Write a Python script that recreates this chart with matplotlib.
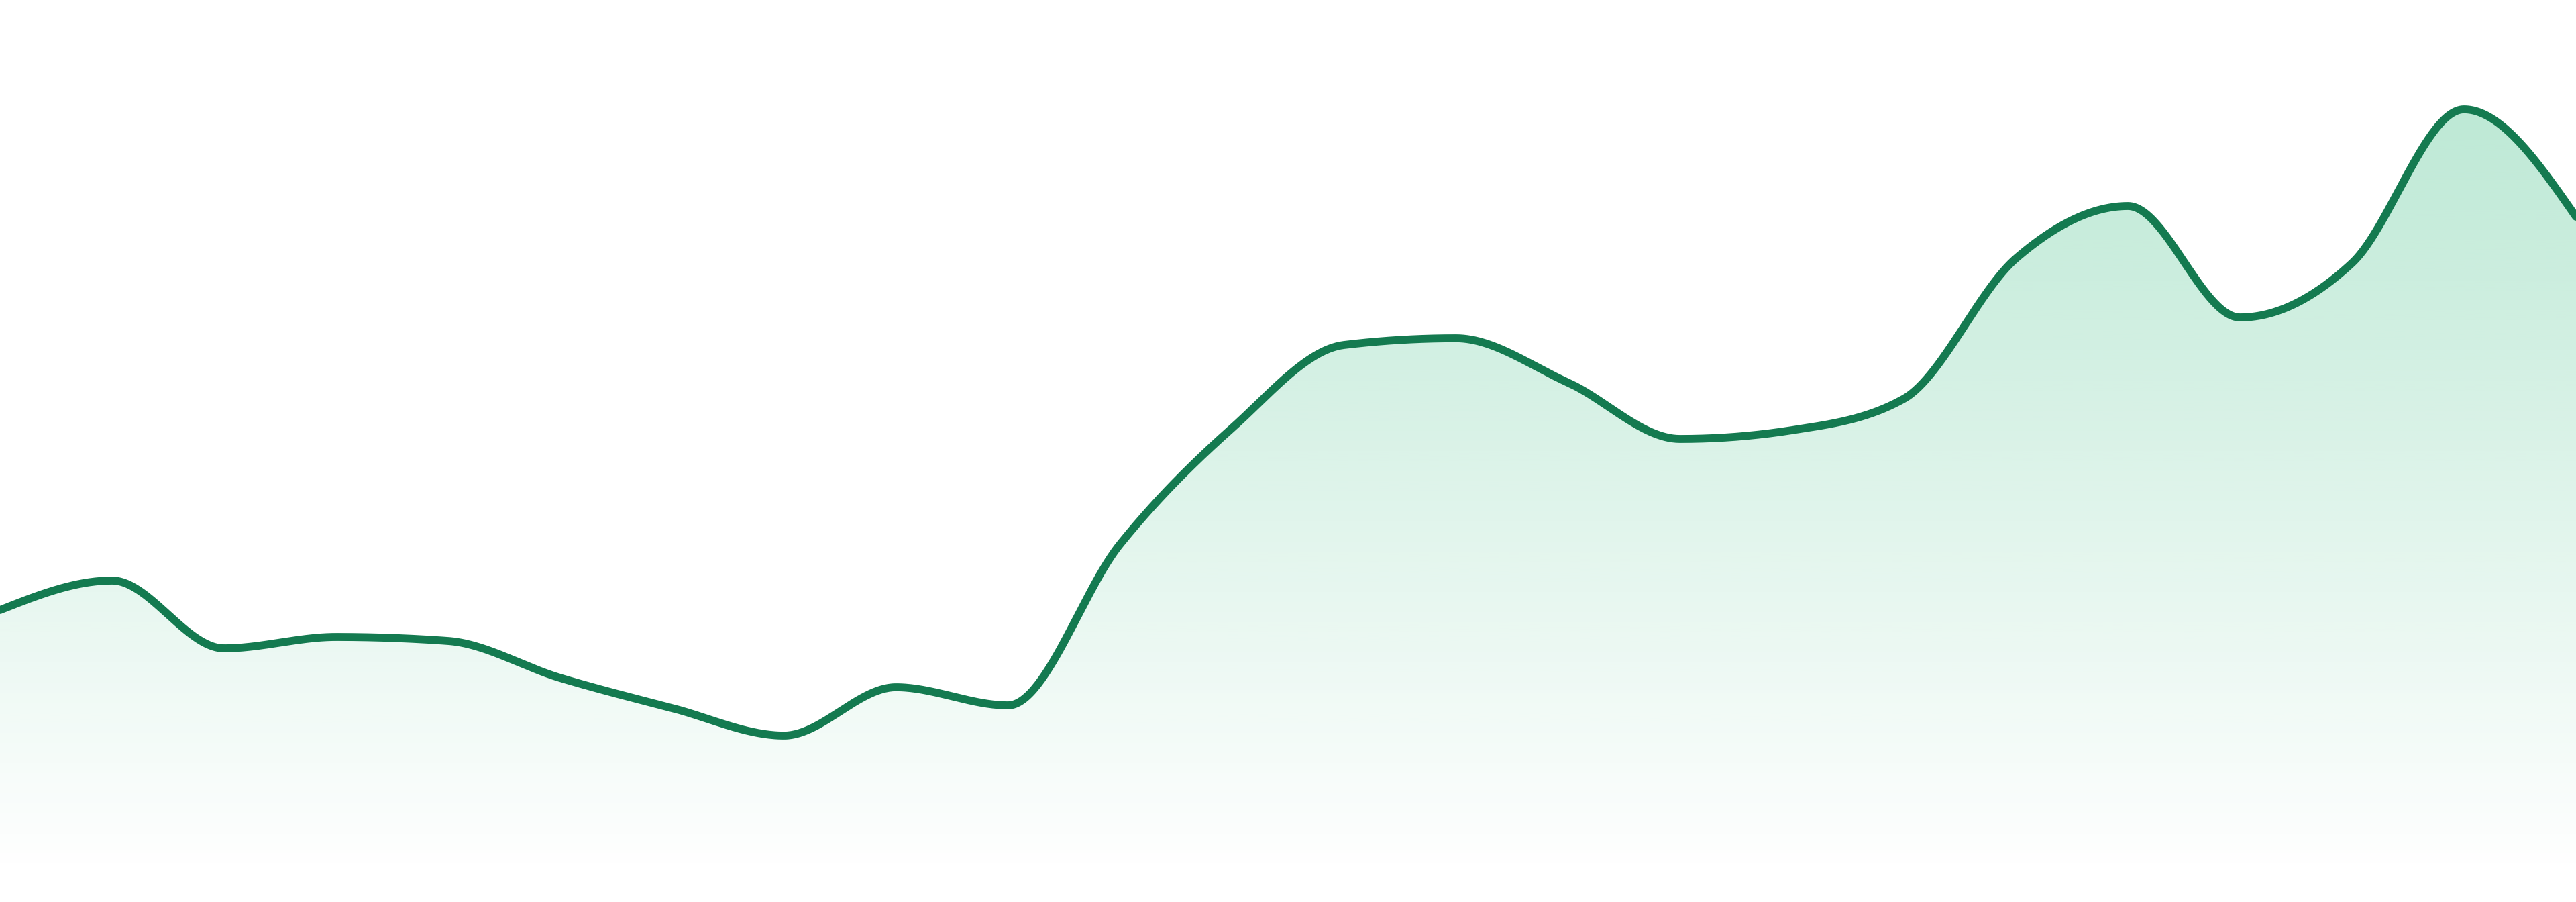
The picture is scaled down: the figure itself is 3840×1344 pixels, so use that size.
import matplotlib
matplotlib.use('Agg')

import matplotlib.pyplot as plt
from matplotlib.colors import to_rgb
import numpy as np

# ==========================================
# data (24 evenly spaced samples)
# ==========================================
values = [43.5, 47.9, 37.8, 39.5, 38.9, 33.4, 28.9, 24.8,
          32.0, 29.3, 53.3, 70.6, 83.0, 84.0, 77.4, 69.0,
          70.3, 75.0, 95.9, 103.7, 87.1, 95.2, 118.1, 102.1]
Y_MIN, Y_MAX = 0.0, 134.4
BASELINE = 4.0   # area stops a little above the bottom edge

LINE_COLOR = '#147a50'
FILL_COLOR = '#22b573'
ALPHA_TOP, ALPHA_BOTTOM = 0.34, 0.0


def monotone_x(x, y, steps=60):
    """cubic hermite with d3 curveMonotoneX tangents"""
    x = np.asarray(x, float)
    y = np.asarray(y, float)
    h = np.diff(x)
    s = np.diff(y) / h
    n = len(x)
    t = np.zeros(n)
    for i in range(1, n - 1):
        h0, h1, s0, s1 = h[i - 1], h[i], s[i - 1], s[i]
        p = (s0 * h1 + s1 * h0) / (h0 + h1)
        t[i] = (np.sign(s0) + np.sign(s1)) * min(abs(s0), abs(s1), 0.5 * abs(p))
    t[0] = (3 * s[0] - t[1]) / 2
    t[-1] = (3 * s[-1] - t[-2]) / 2

    xs, ys = [], []
    for i in range(n - 1):
        u = np.linspace(0, 1, steps, endpoint=(i == n - 2))
        h00 = 2 * u**3 - 3 * u**2 + 1
        h10 = u**3 - 2 * u**2 + u
        h01 = -2 * u**3 + 3 * u**2
        h11 = u**3 - u**2
        xs.append(x[i] + u * h[i])
        ys.append(h00 * y[i] + h10 * h[i] * t[i] + h01 * y[i + 1] + h11 * h[i] * t[i + 1])
    return np.concatenate(xs), np.concatenate(ys)


points = np.arange(len(values))
xs, ys = monotone_x(points, values)

fig = plt.figure(figsize=(38.4, 13.44), dpi=100)
ax = fig.add_axes([0, 0, 1, 1])
ax.set_xlim(points[0], points[-1])
ax.set_ylim(Y_MIN, Y_MAX)
ax.axis('off')

# gradient under the curve
poly = ax.fill_between(xs, ys, BASELINE, facecolor='none', edgecolor='none')
rgb = to_rgb(FILL_COLOR)
grad = np.zeros((256, 1, 4))
grad[:, 0, :3] = rgb
grad[:, 0, 3] = np.linspace(ALPHA_TOP, ALPHA_BOTTOM, 256)
im = ax.imshow(grad, aspect='auto', extent=[points[0], points[-1], BASELINE, Y_MAX],
               origin='upper', interpolation='bilinear', zorder=1)
im.set_clip_path(poly.get_paths()[0], transform=ax.transData)

ax.plot(xs, ys, color=LINE_COLOR, lw=8.5, solid_capstyle='round', zorder=2)

fig.savefig('out.png', dpi=100, facecolor='white')
plt.close(fig)
